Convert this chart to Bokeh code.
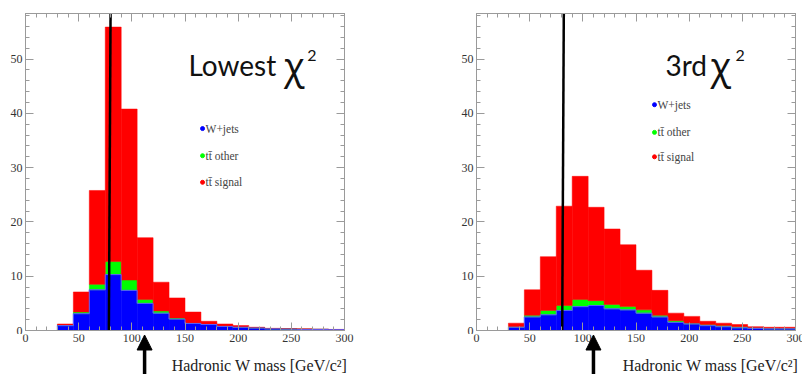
from bokeh.plotting import figure
from bokeh.models import (Range1d, LinearAxis, SingleIntervalTicker, Label,
                          Arrow, NormalHead, ColumnDataSource)
from bokeh.core.properties import value
from bokeh.layouts import row, column
from bokeh.embed import file_html
from bokeh.resources import INLINE

# Hadronic W candidate mass, 15 GeV/c^2 bins from 0 to 300
bin_lo = list(range(0, 300, 15))
BIN_W = 15
X_MAX = 300
Y_MAX = 58.4

components = ["wjets", "tt_other", "tt_signal"]
comp_colors = ["#0000ff", "#00ff00", "#ff0000"]
legend_labels = ["W+jets", "tt\u0304 other", "tt\u0304 signal"]
x_title = "Hadronic W mass [GeV/c\u00b2]"
x_tick_vals = [0, 50, 100, 150, 200, 250, 300]
x_tick_labels = [str(v) for v in x_tick_vals]

# Lowest chi^2 jet assignment
lowest_wjets = [0, 0, 0.9, 3.1, 7.5, 10.3, 7.4, 5.0, 3.2, 2.1,
                1.3, 1.1, 0.75, 0.6, 0.45, 0.3, 0.25, 0.2, 0.2, 0.15]
lowest_tt_other = [0, 0, 0.1, 0.3, 1.0, 2.4, 1.9, 0.7, 0.4, 0.2,
                   0.1, 0.1, 0.1, 0.05, 0.05, 0.05, 0.05, 0.05, 0.0, 0.0]
lowest_tt_signal = [0, 0, 0.2, 3.7, 17.3, 43.2, 31.5, 11.4, 5.3, 3.7,
                    2.0, 0.5, 0.35, 0.25, 0.1, 0.05, 0.05, 0.05, 0.05, 0.05]

# Third-lowest chi^2 jet assignment
third_wjets = [0, 0, 0.6, 2.5, 2.9, 3.7, 4.4, 4.6, 4.0, 3.8,
               3.2, 2.5, 1.5, 1.2, 0.9, 0.7, 0.5, 0.4, 0.3, 0.3]
third_tt_other = [0, 0, 0.1, 0.3, 0.8, 0.9, 1.3, 0.9, 0.8, 0.6,
                  0.6, 0.3, 0.3, 0.15, 0.2, 0.2, 0.2, 0.1, 0.1, 0.1]
third_tt_signal = [0, 0, 0.65, 4.7, 9.9, 18.3, 22.7, 17.2, 13.9, 11.4,
                   7.3, 4.6, 1.4, 1.25, 0.6, 0.45, 0.4, 0.2, 0.2, 0.2]

# W mass reference line (x at bottom, x at top) and arrow marker position
lowest_wline = [78.4, 80.0]
third_wline = [80.6, 82.1]
lowest_arrow_x = 112
third_arrow_x = 110

AXIS_GREY = "#9a9a9a"
TEXT_GREY = "#333333"
SERIF = "Liberation Serif"
FRAME_W = 319          # plot frame width in px
TOP_H = 334            # height of the histogram panels
STRIP_H = 374 - TOP_H  # strip below: tick numbers, arrow and axis title
STRIP_PAD_L = 10       # strip reaches past the frame on the left (px)
PX_X = X_MAX / FRAME_W  # data units per horizontal pixel


def panel(wjets, other, signal, wline, title, title_x, chi_x, sup_x,
          leg_x, leg_ys, width, border_left, border_right):
    p = figure(width=width, height=TOP_H,
               min_border_left=border_left, min_border_right=border_right,
               min_border_top=13, min_border_bottom=TOP_H - 13 - 317,
               x_range=Range1d(0, X_MAX), y_range=Range1d(0, Y_MAX),
               output_backend="svg", toolbar_location=None,
               background_fill_color="white", border_fill_color="white")
    p.grid.visible = False
    p.outline_line_color = AXIS_GREY

    src = ColumnDataSource(dict(
        x=[lo + BIN_W / 2 for lo in bin_lo],
        wjets=wjets, tt_other=other, tt_signal=signal))
    p.vbar_stack(components, x="x", width=BIN_W, source=src,
                 fill_color=comp_colors, line_color=comp_colors,
                 line_width=0.5)
    # thin outline of the W+jets histogram (visible where the stack is empty)
    p.step(x=bin_lo + [X_MAX], y=wjets + [wjets[-1]], mode="after",
           line_color="#5a5aff", line_width=1)

    # ticks on all four sides, pointing into the frame
    bottom = p.below[0]
    left = p.left[0]
    bottom.ticker = SingleIntervalTicker(interval=50, num_minor_ticks=5)
    left.ticker = SingleIntervalTicker(interval=10, num_minor_ticks=5)
    top = LinearAxis(ticker=SingleIntervalTicker(interval=50, num_minor_ticks=5))
    right = LinearAxis(ticker=SingleIntervalTicker(interval=10, num_minor_ticks=5))
    p.add_layout(top, "above")
    p.add_layout(right, "right")
    for ax in (bottom, left, top, right):
        ax.axis_line_color = AXIS_GREY
        ax.major_tick_line_color = AXIS_GREY
        ax.minor_tick_line_color = AXIS_GREY
        ax.major_tick_in = 8
        ax.major_tick_out = 0
        ax.minor_tick_in = 4
        ax.minor_tick_out = 0
        ax.major_label_text_font = SERIF
        ax.major_label_text_font_size = "12px"
        ax.major_label_text_color = TEXT_GREY
    left.major_label_standoff = 3
    # x numbers are drawn in the strip below; these axes carry tick marks only
    for ax in (top, right, bottom):
        ax.major_label_text_font_size = "1px"
        ax.major_label_text_color = None
        ax.major_label_standoff = 0

    # nominal W mass line
    p.segment(x0=[wline[0]], y0=[0], x1=[wline[1]], y1=[Y_MAX],
              line_color="black", line_width=2.5)

    # panel title
    p.add_layout(Label(x=title_x, y=49.0, text=title, text_font="Lato",
                       text_font_size="28px", text_color="#111111",
                       text_baseline="alphabetic"))
    p.add_layout(Label(x=chi_x, y=49.0, text="\u03c7", text_font="Open Sans",
                       text_font_size="38px", text_color="#111111",
                       text_baseline="alphabetic"))
    p.add_layout(Label(x=sup_x, y=50.6, text="2", text_font="Lato",
                       text_font_size="16px", text_color="#111111",
                       text_baseline="alphabetic"))

    # legend
    p.scatter(x=[leg_x] * 3, y=leg_ys, size=4, color=comp_colors)
    for lab, yy in zip(legend_labels, leg_ys):
        p.add_layout(Label(x=leg_x + 2.8, y=yy, text=lab, text_font=SERIF,
                           text_font_size="11.5px", text_color="#444444",
                           text_baseline="middle"))
    return p


def strip(arrow_x, width, border_left, border_right):
    # x tick numbers, marker arrow and right-aligned x axis title
    pad_r = min(STRIP_PAD_L, border_right)
    s = figure(width=width, height=STRIP_H,
               min_border_left=border_left - STRIP_PAD_L,
               min_border_right=border_right - pad_r,
               min_border_top=0, min_border_bottom=0,
               x_range=Range1d(-STRIP_PAD_L * PX_X, X_MAX + pad_r * PX_X),
               y_range=Range1d(0, STRIP_H),
               x_axis_location=None, y_axis_location=None,
               output_backend="svg", toolbar_location=None,
               background_fill_color="white", border_fill_color="white")
    s.grid.visible = False
    s.outline_line_color = None
    s.text(x=x_tick_vals, y=[STRIP_H - 3] * len(x_tick_vals),
           text=x_tick_labels, text_font=value(SERIF),
           text_font_size=value("12px"), text_color=TEXT_GREY,
           text_align="center", text_baseline="middle")
    s.add_layout(Arrow(end=NormalHead(size=15, fill_color="black",
                                      line_color="black", line_width=1),
                       x_start=arrow_x, y_start=0, x_end=arrow_x,
                       y_end=STRIP_H - 0.5,
                       line_color="black", line_width=3.5))
    s.add_layout(Label(x=X_MAX + 3 * PX_X, y=9, text=x_title,
                       text_font=SERIF, text_font_size="16px",
                       text_color="#222222", text_align="right",
                       text_baseline="alphabetic"))
    return s


p1 = panel(lowest_wjets, lowest_tt_other, lowest_tt_signal, lowest_wline,
           "Lowest", 153.3, 243.0, 265.0,
           166.5, [37.2, 32.2, 27.3], 400, 25, 56)
p2 = panel(third_wjets, third_tt_other, third_tt_signal, third_wline,
           "3rd", 177.7, 220.0, 243.5,
           167.4, [41.6, 36.5, 32.0], 402, 76, 7)
s1 = strip(lowest_arrow_x, 400, 25, 56)
s2 = strip(third_arrow_x, 402, 76, 7)

layout = column(row(p1, p2), row(s1, s2))
open("out.html", "w").write(file_html(layout, INLINE))
